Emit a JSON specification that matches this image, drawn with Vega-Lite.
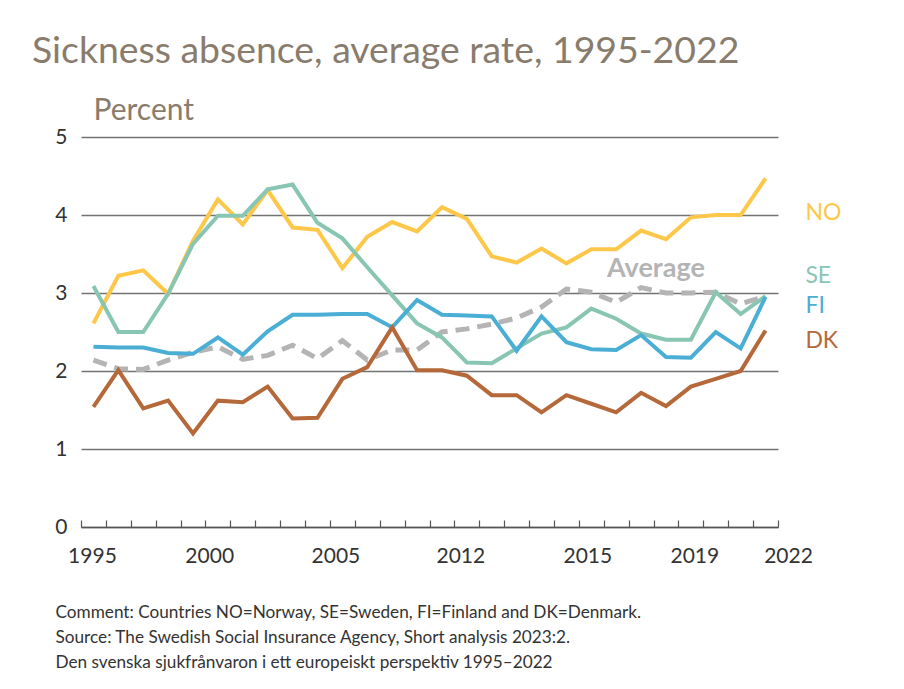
{
  "$schema": "https://vega.github.io/schema/vega-lite/v6.json",
  "width": 697,
  "height": 390,
  "autosize": "none",
  "padding": {"left": 81, "top": 137, "right": 126, "bottom": 162},
  "background": "white",
  "config": {"view": {"stroke": null}, "font": "Lato"},
  "title": {
    "text": "Sickness absence, average rate, 1995-2022",
    "anchor": "start",
    "frame": "group",
    "font": "Lato",
    "fontSize": 37.4,
    "fontWeight": "normal",
    "color": "#8a7c6d",
    "dx": -49,
    "dy": -15,
    "offset": 10
  },
  "datasets": {
    "series": [
      {"series": "NO", "year": 1995, "value": 2.61}, {"series": "NO", "year": 1996, "value": 3.22}, {"series": "NO", "year": 1997, "value": 3.29}, {"series": "NO", "year": 1998, "value": 2.99}, {"series": "NO", "year": 1999, "value": 3.67}, {"series": "NO", "year": 2000, "value": 4.2}, {"series": "NO", "year": 2001, "value": 3.88}, {"series": "NO", "year": 2002, "value": 4.32}, {"series": "NO", "year": 2003, "value": 3.84}, {"series": "NO", "year": 2004, "value": 3.81}, {"series": "NO", "year": 2005, "value": 3.32}, {"series": "NO", "year": 2006, "value": 3.72}, {"series": "NO", "year": 2007, "value": 3.91}, {"series": "NO", "year": 2008, "value": 3.79}, {"series": "NO", "year": 2009, "value": 4.1}, {"series": "NO", "year": 2010, "value": 3.95}, {"series": "NO", "year": 2011, "value": 3.47}, {"series": "NO", "year": 2012, "value": 3.39}, {"series": "NO", "year": 2013, "value": 3.57}, {"series": "NO", "year": 2014, "value": 3.38}, {"series": "NO", "year": 2015, "value": 3.56}, {"series": "NO", "year": 2016, "value": 3.56}, {"series": "NO", "year": 2017, "value": 3.8}, {"series": "NO", "year": 2018, "value": 3.69}, {"series": "NO", "year": 2019, "value": 3.97}, {"series": "NO", "year": 2020, "value": 4.0}, {"series": "NO", "year": 2021, "value": 4.0}, {"series": "NO", "year": 2022, "value": 4.47},
      {"series": "SE", "year": 1995, "value": 3.09}, {"series": "SE", "year": 1996, "value": 2.5}, {"series": "SE", "year": 1997, "value": 2.5}, {"series": "SE", "year": 1998, "value": 2.99}, {"series": "SE", "year": 1999, "value": 3.63}, {"series": "SE", "year": 2000, "value": 3.99}, {"series": "SE", "year": 2001, "value": 3.99}, {"series": "SE", "year": 2002, "value": 4.33}, {"series": "SE", "year": 2003, "value": 4.39}, {"series": "SE", "year": 2004, "value": 3.9}, {"series": "SE", "year": 2005, "value": 3.7}, {"series": "SE", "year": 2006, "value": 3.33}, {"series": "SE", "year": 2007, "value": 2.97}, {"series": "SE", "year": 2008, "value": 2.61}, {"series": "SE", "year": 2009, "value": 2.43}, {"series": "SE", "year": 2010, "value": 2.11}, {"series": "SE", "year": 2011, "value": 2.1}, {"series": "SE", "year": 2012, "value": 2.29}, {"series": "SE", "year": 2013, "value": 2.48}, {"series": "SE", "year": 2014, "value": 2.56}, {"series": "SE", "year": 2015, "value": 2.8}, {"series": "SE", "year": 2016, "value": 2.67}, {"series": "SE", "year": 2017, "value": 2.48}, {"series": "SE", "year": 2018, "value": 2.4}, {"series": "SE", "year": 2019, "value": 2.4}, {"series": "SE", "year": 2020, "value": 3.01}, {"series": "SE", "year": 2021, "value": 2.73}, {"series": "SE", "year": 2022, "value": 2.96},
      {"series": "FI", "year": 1995, "value": 2.31}, {"series": "FI", "year": 1996, "value": 2.3}, {"series": "FI", "year": 1997, "value": 2.3}, {"series": "FI", "year": 1998, "value": 2.23}, {"series": "FI", "year": 1999, "value": 2.22}, {"series": "FI", "year": 2000, "value": 2.43}, {"series": "FI", "year": 2001, "value": 2.21}, {"series": "FI", "year": 2002, "value": 2.51}, {"series": "FI", "year": 2003, "value": 2.72}, {"series": "FI", "year": 2004, "value": 2.72}, {"series": "FI", "year": 2005, "value": 2.73}, {"series": "FI", "year": 2006, "value": 2.73}, {"series": "FI", "year": 2007, "value": 2.56}, {"series": "FI", "year": 2008, "value": 2.91}, {"series": "FI", "year": 2009, "value": 2.72}, {"series": "FI", "year": 2010, "value": 2.71}, {"series": "FI", "year": 2011, "value": 2.7}, {"series": "FI", "year": 2012, "value": 2.26}, {"series": "FI", "year": 2013, "value": 2.7}, {"series": "FI", "year": 2014, "value": 2.37}, {"series": "FI", "year": 2015, "value": 2.28}, {"series": "FI", "year": 2016, "value": 2.27}, {"series": "FI", "year": 2017, "value": 2.46}, {"series": "FI", "year": 2018, "value": 2.18}, {"series": "FI", "year": 2019, "value": 2.17}, {"series": "FI", "year": 2020, "value": 2.5}, {"series": "FI", "year": 2021, "value": 2.29}, {"series": "FI", "year": 2022, "value": 2.95},
      {"series": "DK", "year": 1995, "value": 1.54}, {"series": "DK", "year": 1996, "value": 2.01}, {"series": "DK", "year": 1997, "value": 1.52}, {"series": "DK", "year": 1998, "value": 1.62}, {"series": "DK", "year": 1999, "value": 1.2}, {"series": "DK", "year": 2000, "value": 1.62}, {"series": "DK", "year": 2001, "value": 1.6}, {"series": "DK", "year": 2002, "value": 1.8}, {"series": "DK", "year": 2003, "value": 1.39}, {"series": "DK", "year": 2004, "value": 1.4}, {"series": "DK", "year": 2005, "value": 1.9}, {"series": "DK", "year": 2006, "value": 2.05}, {"series": "DK", "year": 2007, "value": 2.56}, {"series": "DK", "year": 2008, "value": 2.01}, {"series": "DK", "year": 2009, "value": 2.01}, {"series": "DK", "year": 2010, "value": 1.94}, {"series": "DK", "year": 2011, "value": 1.69}, {"series": "DK", "year": 2012, "value": 1.69}, {"series": "DK", "year": 2013, "value": 1.47}, {"series": "DK", "year": 2014, "value": 1.69}, {"series": "DK", "year": 2015, "value": 1.58}, {"series": "DK", "year": 2016, "value": 1.47}, {"series": "DK", "year": 2017, "value": 1.72}, {"series": "DK", "year": 2018, "value": 1.55}, {"series": "DK", "year": 2019, "value": 1.8}, {"series": "DK", "year": 2020, "value": 1.9}, {"series": "DK", "year": 2021, "value": 2.0}, {"series": "DK", "year": 2022, "value": 2.52},
      {"series": "Average", "year": 1995, "value": 2.14}, {"series": "Average", "year": 1996, "value": 2.03}, {"series": "Average", "year": 1997, "value": 2.02}, {"series": "Average", "year": 1998, "value": 2.14}, {"series": "Average", "year": 1999, "value": 2.24}, {"series": "Average", "year": 2000, "value": 2.31}, {"series": "Average", "year": 2001, "value": 2.15}, {"series": "Average", "year": 2002, "value": 2.2}, {"series": "Average", "year": 2003, "value": 2.33}, {"series": "Average", "year": 2004, "value": 2.16}, {"series": "Average", "year": 2005, "value": 2.39}, {"series": "Average", "year": 2006, "value": 2.14}, {"series": "Average", "year": 2007, "value": 2.27}, {"series": "Average", "year": 2008, "value": 2.27}, {"series": "Average", "year": 2009, "value": 2.5}, {"series": "Average", "year": 2010, "value": 2.54}, {"series": "Average", "year": 2011, "value": 2.6}, {"series": "Average", "year": 2012, "value": 2.68}, {"series": "Average", "year": 2013, "value": 2.82}, {"series": "Average", "year": 2014, "value": 3.05}, {"series": "Average", "year": 2015, "value": 3.01}, {"series": "Average", "year": 2016, "value": 2.88}, {"series": "Average", "year": 2017, "value": 3.07}, {"series": "Average", "year": 2018, "value": 3.0}, {"series": "Average", "year": 2019, "value": 3.0}, {"series": "Average", "year": 2020, "value": 3.01}, {"series": "Average", "year": 2021, "value": 2.86}, {"series": "Average", "year": 2022, "value": 2.96}
    ],
    "countryLabels": [
      {"series": "NO", "year": 2023.6, "value": 4.03},
      {"series": "SE", "year": 2023.6, "value": 3.22},
      {"series": "FI", "year": 2023.6, "value": 2.83},
      {"series": "DK", "year": 2023.6, "value": 2.38}
    ],
    "averageLabel": [
      {"series": "Average", "year": 2015.63, "value": 3.31}
    ]
  },
  "layer": [
    {
      "data": {"name": "series"},
      "transform": [{"filter": "datum.series === 'Average'"}],
      "mark": {"type": "line", "strokeWidth": 5, "strokeDash": [14, 8]},
      "encoding": {
        "x": {
          "field": "year",
          "type": "quantitative",
          "scale": {"domain": [1994.5, 2022.5], "nice": false, "zero": false},
          "axis": {
            "values": [1994.5, 1995.5, 1996.5, 1997.5, 1998.5, 1999.5, 2000.5, 2001.5, 2002.5, 2003.5, 2004.5, 2005.5, 2006.5, 2007.5, 2008.5, 2009.5, 2010.5, 2011.5, 2012.5, 2013.5, 2014.5, 2015.5, 2016.5, 2017.5, 2018.5, 2019.5, 2020.5, 2021.5, 2022.5, 1994.94, 1999.65, 2004.72, 2009.74, 2014.84, 2019.14],
            "tickCount": 100,
            "labelExpr": "abs(datum.value - 1994.94) < 0.001 ? '1995' : abs(datum.value - 1999.65) < 0.001 ? '2000' : abs(datum.value - 2004.72) < 0.001 ? '2005' : abs(datum.value - 2009.74) < 0.001 ? '2012' : abs(datum.value - 2014.84) < 0.001 ? '2015' : abs(datum.value - 2019.14) < 0.001 ? '2019' : abs(datum.value - 2022.5) < 0.001 ? '2022' : ''",
            "tickOpacity": {"condition": {"test": "datum.value % 1 != 0.5", "value": 0}, "value": 1},
            "labelOffset": {"condition": {"test": "datum.value == 2022.5", "value": 10}, "value": 0},
            "tickSize": -7,
            "tickColor": "#555555",
            "tickWidth": 1.2,
            "domainColor": "#555555",
            "domainWidth": 1.5,
            "grid": false,
            "labelFont": "Lato",
            "labelFontSize": 21,
            "labelColor": "#333333",
            "labelPadding": 25,
            "labelFlush": false,
            "labelOverlap": false,
            "title": [
              "Comment: Countries NO=Norway, SE=Sweden, FI=Finland and DK=Denmark.",
              "Source: The Swedish Social Insurance Agency, Short analysis 2023:2.",
              "Den svenska sjukfrånvaron i ett europeiskt perspektiv 1995–2022"
            ],
            "titleFont": "Lato",
            "titleFontSize": 17.2,
            "titleFontWeight": "normal",
            "titleColor": "#333333",
            "titleAlign": "left",
            "titleAnchor": "start",
            "titleBaseline": "alphabetic",
            "titleX": -26,
            "titleY": 90,
            "titleLineHeight": 25
          }
        },
        "y": {
          "field": "value",
          "type": "quantitative",
          "scale": {"domain": [0, 5], "nice": false},
          "axis": {
            "values": [0, 1, 2, 3, 4, 5],
            "format": "d",
            "grid": true,
            "gridColor": "#737373",
            "gridWidth": 1.5,
            "domain": false,
            "ticks": false,
            "labelFont": "Lato",
            "labelFontSize": 21,
            "labelColor": "#333333",
            "labelPadding": 14,
            "title": "Percent",
            "titleFont": "Lato",
            "titleAngle": 0,
            "titleAlign": "left",
            "titleBaseline": "alphabetic",
            "titleX": 12,
            "titleY": -18,
            "titleFontSize": 30,
            "titleFontWeight": "normal",
            "titleColor": "#8a7c6d"
          }
        },
        "color": {
          "field": "series",
          "type": "nominal",
          "scale": {"domain": ["NO", "SE", "FI", "DK", "Average"], "range": ["#fdc74a", "#88c6b3", "#4aaed5", "#b5693a", "#b4b4b4"]},
          "legend": null
        }
      }
    },
    {
      "data": {"name": "series"},
      "transform": [{"filter": "datum.series !== 'Average'"}],
      "mark": {"type": "line", "strokeWidth": 4},
      "encoding": {
        "x": {"field": "year", "type": "quantitative"},
        "y": {"field": "value", "type": "quantitative"},
        "color": {"field": "series", "type": "nominal", "legend": null},
        "order": {"field": "year"}
      }
    },
    {
      "data": {"name": "countryLabels"},
      "mark": {"type": "text", "align": "left", "baseline": "middle", "font": "Lato", "fontSize": 23},
      "encoding": {
        "x": {"field": "year", "type": "quantitative"},
        "y": {"field": "value", "type": "quantitative"},
        "text": {"field": "series"},
        "color": {"field": "series", "type": "nominal", "legend": null}
      }
    },
    {
      "data": {"name": "averageLabel"},
      "mark": {"type": "text", "align": "left", "baseline": "middle", "font": "Lato", "fontSize": 27, "fontWeight": "bold"},
      "encoding": {
        "x": {"field": "year", "type": "quantitative"},
        "y": {"field": "value", "type": "quantitative"},
        "text": {"field": "series"},
        "color": {"field": "series", "type": "nominal", "legend": null}
      }
    }
  ]
}
